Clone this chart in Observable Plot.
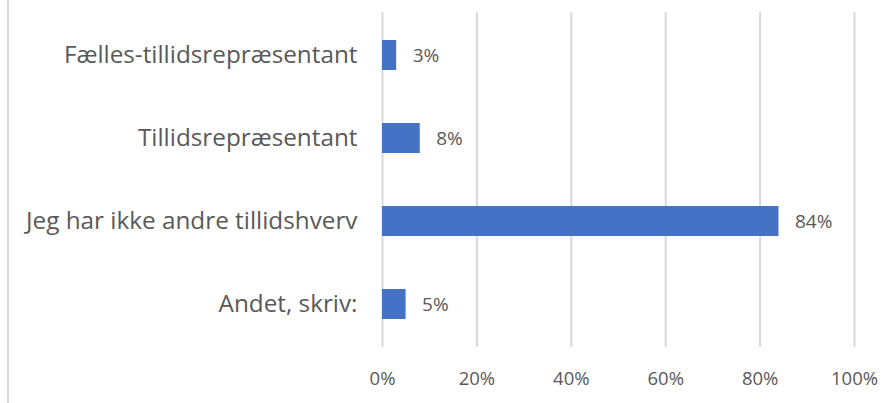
<!DOCTYPE html>
<html><head><meta charset="utf-8">
<script src="https://cdn.jsdelivr.net/npm/d3@7"></script>
<script src="https://cdn.jsdelivr.net/npm/@observablehq/plot@0.6"></script>
<style>
body{margin:0;background:#fff}
#wrap{position:relative;width:896px;height:403px}
#edge{position:absolute;left:7px;top:0;bottom:0;width:2px;background:#d9d9d9}
</style></head><body><div id="wrap"><div id="edge"></div></div>
<script>
const categories = ["Fælles-tillidsrepræsentant", "Tillidsrepræsentant", "Jeg har ikke andre tillidshverv", "Andet, skriv:"];
const values = [3, 8, 84, 5];
const xTicks = [0, 20, 40, 60, 80, 100];

const data = categories.map((c, i) => ({cat: c, value: values[i]}));
const fmt = d => d + "%";

const chart = Plot.plot({
  width: 896,
  height: 403,
  marginLeft: 382,
  marginRight: 42,
  marginTop: 12,
  marginBottom: 56,
  style: {fontFamily: "'Open Sans', sans-serif", color: "#595959", background: "#fff"},
  x: {domain: [0, 100]},
  y: {domain: categories, paddingInner: 0.64, paddingOuter: 0.32},
  marks: [
    Plot.gridX(xTicks, {stroke: "#d9d9d9", strokeOpacity: 1, strokeWidth: 2}),
    Plot.barX(data, {x: "value", y: "cat", fill: "#4472C4"}),
    Plot.text(data, {x: "value", y: "cat", text: d => fmt(d.value), dx: 16, textAnchor: "start", fontSize: 19, fill: "#595959"}),
    Plot.axisX(xTicks, {tickSize: 0, tickPadding: 24, fontSize: 18.5, tickFormat: fmt, label: null, fill: "#595959"}),
    Plot.axisY({tickSize: 0, tickPadding: 25, fontSize: 24.3, label: null, fill: "#595959"})
  ]
});
document.getElementById("wrap").appendChild(chart);
</script></body></html>
